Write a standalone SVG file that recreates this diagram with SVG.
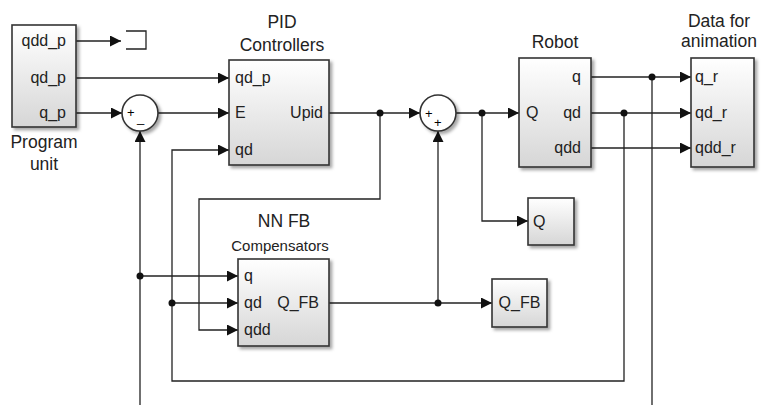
<svg xmlns="http://www.w3.org/2000/svg" width="764" height="405" viewBox="0 0 764 405">
<defs>
  <linearGradient id="bg" x1="0" y1="0" x2="0" y2="1">
    <stop offset="0" stop-color="#ffffff"/>
    <stop offset="1" stop-color="#d6d6d6"/>
  </linearGradient>
  <filter id="sh" x="-20%" y="-20%" width="150%" height="150%">
    <feDropShadow dx="2.5" dy="2.5" stdDeviation="1.5" flood-color="#000" flood-opacity="0.35"/>
  </filter>
  <marker id="ar" markerUnits="userSpaceOnUse" markerWidth="12" markerHeight="12" refX="11" refY="5.5" orient="auto">
    <path d="M0,0 L11,5.5 L0,11 z" fill="#111"/>
  </marker>
  <style>
    .blk{fill:url(#bg);stroke:#333;stroke-width:1.6;filter:url(#sh)}
    .sum{fill:#fff;stroke:#333;stroke-width:1.6;filter:url(#sh)}
    .w{fill:none;stroke:#222;stroke-width:1.3}
    .a{marker-end:url(#ar)}
    .dot{fill:#111}
    text{font-family:"Liberation Sans",Arial,sans-serif;fill:#222}
    .p{font-size:16px}
    .t{font-size:17.5px;text-anchor:middle}
    .s{font-size:13px;fill:#000}
    .e{text-anchor:end}
  </style>
</defs>

<g id="connectors">
  <path class="w a" d="M76,41 H121"/>
  <path class="w a" d="M76,78 H229"/>
  <path class="w a" d="M76,113 H122"/>
  <path class="w a" d="M158,113 H229"/>
  <path class="w a" d="M329,113 H420"/>
  <path class="w a" d="M380,113 V199 H199 V330 H238"/>
  <path class="w a" d="M456,113 H519"/>
  <path class="w a" d="M482,113 V221 H528"/>
  <path class="w a" d="M591,77 H691"/>
  <path class="w" d="M652,77 V405"/>
  <path class="w a" d="M591,113 H691"/>
  <path class="w a" d="M624,113 V381 H172 V150 H229"/>
  <path class="w a" d="M172,303 H238"/>
  <path class="w a" d="M591,148 H691"/>
  <path class="w a" d="M140,405 V131"/>
  <path class="w a" d="M140,276 H238"/>
  <path class="w a" d="M329,303 H492"/>
  <path class="w a" d="M438,303 V131"/>
  <circle class="dot" cx="380" cy="113" r="3.5"/>
  <circle class="dot" cx="482" cy="113" r="3.5"/>
  <circle class="dot" cx="652" cy="77" r="3.5"/>
  <circle class="dot" cx="624" cy="113" r="3.5"/>
  <circle class="dot" cx="172" cy="303" r="3.5"/>
  <circle class="dot" cx="140" cy="276" r="3.5"/>
  <circle class="dot" cx="438" cy="303" r="3.5"/>
</g>

<g id="program-unit">
  <rect class="blk" x="12" y="25" width="64" height="102"/>
  <text class="p e" x="66" y="46">qdd_p</text>
  <text class="p e" x="66" y="83">qd_p</text>
  <text class="p e" x="66" y="118">q_p</text>
  <text class="t" x="44" y="148">Program</text>
  <text class="t" x="44" y="170">unit</text>
</g>

<g id="terminator">
  <path d="M126,31 H146 V49 H126" fill="none" stroke="#222" stroke-width="1.3"/>
</g>

<g id="sum1">
  <circle class="sum" cx="140" cy="113" r="18"/>
  <text class="s" x="127" y="117">+</text>
  <text class="s" x="137" y="122">_</text>
</g>

<g id="pid">
  <rect class="blk" x="229" y="60" width="100" height="105"/>
  <text class="p" x="235" y="83">qd_p</text>
  <text class="p" x="235" y="118">E</text>
  <text class="p" x="235" y="155">qd</text>
  <text class="p e" x="323" y="118">Upid</text>
  <text class="t" x="282" y="28">PID</text>
  <text class="t" x="282" y="51">Controllers</text>
</g>

<g id="sum2">
  <circle class="sum" cx="438" cy="113" r="18"/>
  <text class="s" x="425" y="118">+</text>
  <text class="s" x="434" y="127">+</text>
</g>

<g id="robot">
  <rect class="blk" x="519" y="58" width="72" height="109"/>
  <text class="p" x="526" y="118">Q</text>
  <text class="p e" x="581" y="82">q</text>
  <text class="p e" x="581" y="118">qd</text>
  <text class="p e" x="581" y="153">qdd</text>
  <text class="t" x="555" y="48">Robot</text>
</g>

<g id="data-for-animation">
  <rect class="blk" x="691" y="58" width="63" height="109"/>
  <text class="p" x="695" y="82">q_r</text>
  <text class="p" x="695" y="118">qd_r</text>
  <text class="p" x="695" y="153">qdd_r</text>
  <text class="t" x="719" y="27">Data for</text>
  <text class="t" x="719" y="47">animation</text>
</g>

<g id="q-scope">
  <rect class="blk" x="528" y="198" width="46" height="47"/>
  <text class="p" x="533" y="227">Q</text>
</g>

<g id="qfb-scope">
  <rect class="blk" x="492" y="279" width="55" height="48"/>
  <text class="p" x="519.5" y="308" text-anchor="middle">Q_FB</text>
</g>

<g id="nn-fb">
  <rect class="blk" x="238" y="259" width="91" height="87"/>
  <text class="p" x="244" y="281">q</text>
  <text class="p" x="244" y="308">qd</text>
  <text class="p" x="244" y="335">qdd</text>
  <text class="p e" x="319" y="308">Q_FB</text>
  <text class="t" x="284" y="227">NN FB</text>
  <text x="280" y="251" font-size="15" text-anchor="middle">Compensators</text>
</g>
</svg>
